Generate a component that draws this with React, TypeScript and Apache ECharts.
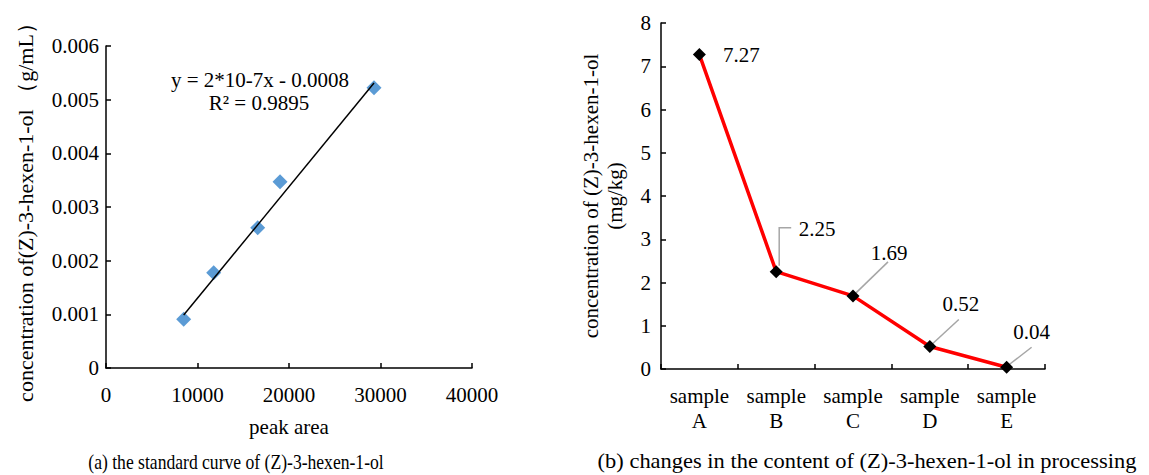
import React, { useEffect, useRef } from "react";
import * as echarts from "echarts";

// ---- data (a) standard curve ----
const peakArea = [8490, 11770, 16580, 19020, 29290];
const concGmL = [0.000907, 0.001775, 0.002613, 0.00347, 0.00522];
const trendPeakArea = [8490, 29290];
const trendConc = [0.000987, 0.00531];
const equationLines = ["y = 2*10-7x - 0.0008", "R² = 0.9895"];

// ---- data (b) content in processing ----
const samples = ["sample\nA", "sample\nB", "sample\nC", "sample\nD", "sample\nE"];
const contents = [7.27, 2.25, 1.69, 0.52, 0.04];

const captions = [
  "(a) the standard curve of (Z)-3-hexen-1-ol",
  "(b) changes in the content of (Z)-3-hexen-1-ol in processing",
];
const axisNames = {
  leftX: "peak area",
  leftY: "concentration of(Z)-3-hexen-1-ol （g/mL）",
  rightY: "concentration of (Z)-3-hexen-1-ol\n(mg/kg)",
};

const FONT = "'Liberation Serif', 'Times New Roman', serif";
const FS = 21;

// label offsets relative to point centre (px)
const labelShift: number[][] = [
  [42, 0],
  [41, -43],
  [36, -43],
  [31, -43],
  [25, -35],
];
// leader line vertices relative to point centre (px); null = no leader
const leaderPaths: (number[][] | null)[] = [
  null,
  [[3, -6], [3, -44], [15, -44]],
  [[3, -3], [35, -34]],
  [[3, -3], [29, -27]],
  [[3, -3], [25, -20]],
];

export default function App() {
  const ref = useRef<HTMLDivElement>(null);
  useEffect(() => {
    document.body.style.margin = "0";
    const chart = echarts.init(ref.current!, null, { renderer: "svg" });
    const axisLine = { show: true, lineStyle: { color: "#000", width: 1.5 } };
    const axisTick = { show: true, inside: true, length: 5, lineStyle: { color: "#000", width: 1.5 } };
    const labelStyle = { color: "#000", fontSize: FS, fontFamily: FONT };

    const option: any = {
      animation: false,
      backgroundColor: "#fff",
      textStyle: { fontFamily: FONT },
      grid: [
        { left: 106, right: 1149 - 472, top: 46, bottom: 475 - 368, outerBoundsMode: "none" },
        { left: 661, right: 1149 - 1045, top: 23, bottom: 475 - 369, outerBoundsMode: "none" },
      ],
      xAxis: [
        {
          gridIndex: 0,
          type: "value",
          min: 0,
          max: 40000,
          interval: 10000,
          axisLine,
          axisTick,
          splitLine: { show: false },
          axisLabel: { ...labelStyle, margin: 16, formatter: (v: number) => String(v) },
          name: axisNames.leftX,
          nameLocation: "middle",
          nameGap: 48,
          nameTextStyle: { ...labelStyle },
        },
        {
          gridIndex: 1,
          type: "category",
          data: samples,
          boundaryGap: true,
          axisLine,
          axisTick: { ...axisTick, alignWithLabel: false, interval: 0 },
          axisLabel: { ...labelStyle, margin: 14, lineHeight: 25, interval: 0 },
          splitLine: { show: false },
        },
      ],
      yAxis: [
        {
          gridIndex: 0,
          type: "value",
          min: 0,
          max: 0.006,
          interval: 0.001,
          axisLine,
          axisTick,
          splitLine: { show: false },
          axisLabel: { ...labelStyle, margin: 7 },
          name: axisNames.leftY,
          nameLocation: "middle",
          nameGap: 70,
          nameTextStyle: { ...labelStyle, fontSize: 22 },
        },
        {
          gridIndex: 1,
          type: "value",
          min: 0,
          max: 8,
          interval: 1,
          axisLine,
          axisTick,
          splitLine: { show: false },
          axisLabel: { ...labelStyle, margin: 10 },
          name: axisNames.rightY,
          nameLocation: "middle",
          nameGap: 34,
          nameTextStyle: { ...labelStyle, lineHeight: 24 },
        },
      ],
      series: [
        {
          type: "line",
          xAxisIndex: 0,
          yAxisIndex: 0,
          data: trendPeakArea.map((x, i) => [x, trendConc[i]]),
          showSymbol: false,
          symbol: "none",
          lineStyle: { color: "#000", width: 1.5 },
          z: 3,
        },
        {
          type: "scatter",
          xAxisIndex: 0,
          yAxisIndex: 0,
          data: peakArea.map((x, i) => [x, concGmL[i]]),
          symbol: "diamond",
          symbolSize: 15,
          itemStyle: { color: "#5B9BD5", opacity: 1 },
          z: 2,
        },
        {
          type: "custom",
          xAxisIndex: 1,
          yAxisIndex: 1,
          data: contents.map((v, i) => [i, v]),
          encode: { x: 0, y: 1 },
          z: 1,
          silent: true,
          renderItem: (params: any, api: any) => {
            const path = leaderPaths[params.dataIndex];
            if (!path) return null;
            const pt = api.coord([api.value(0), api.value(1)]);
            return {
              type: "polyline",
              shape: { points: path.map((d) => [pt[0] + d[0], pt[1] + d[1]]) },
              style: { stroke: "#A6A6A6", lineWidth: 1.5, fill: "none" },
            };
          },
        },
        {
          type: "line",
          xAxisIndex: 1,
          yAxisIndex: 1,
          data: contents,
          symbol: "diamond",
          symbolSize: 13,
          showAllSymbol: true,
          itemStyle: { color: "#000" },
          lineStyle: { color: "#FF0000", width: 3.5 },
          z: 2,
          label: {
            show: true,
            position: "inside",
            ...labelStyle,
            formatter: (p: any) => p.value.toFixed(2),
          },
          labelLayout: (p: any) => {
            const s = labelShift[p.dataIndex];
            return {
              x: p.rect.x + p.rect.width / 2 + s[0],
              y: p.rect.y + p.rect.height / 2 + s[1],
              align: "center",
              verticalAlign: "middle",
            };
          },
        },
      ],
      graphic: [
        {
          type: "text",
          x: 260,
          y: 80,
          style: { text: equationLines[0], ...labelStyle, fill: "#000", align: "center", verticalAlign: "middle" },
        },
        {
          type: "text",
          x: 259,
          y: 103,
          style: { text: equationLines[1], ...labelStyle, fill: "#000", align: "center", verticalAlign: "middle" },
        },
        {
          type: "text",
          x: 236,
          y: 461,
          scaleX: 0.8,
          style: { text: captions[0], ...labelStyle, fontSize: 22, fill: "#000", align: "center", verticalAlign: "middle" },
        },
        {
          type: "text",
          x: 867,
          y: 461,
          scaleX: 1.07,
          style: { text: captions[1], ...labelStyle, fill: "#000", align: "center", verticalAlign: "middle" },
        },
      ],
    };
    chart.setOption(option);
    return () => chart.dispose();
  }, []);
  return <div ref={ref} style={{ width: 1149, height: 475 }} />;
}
